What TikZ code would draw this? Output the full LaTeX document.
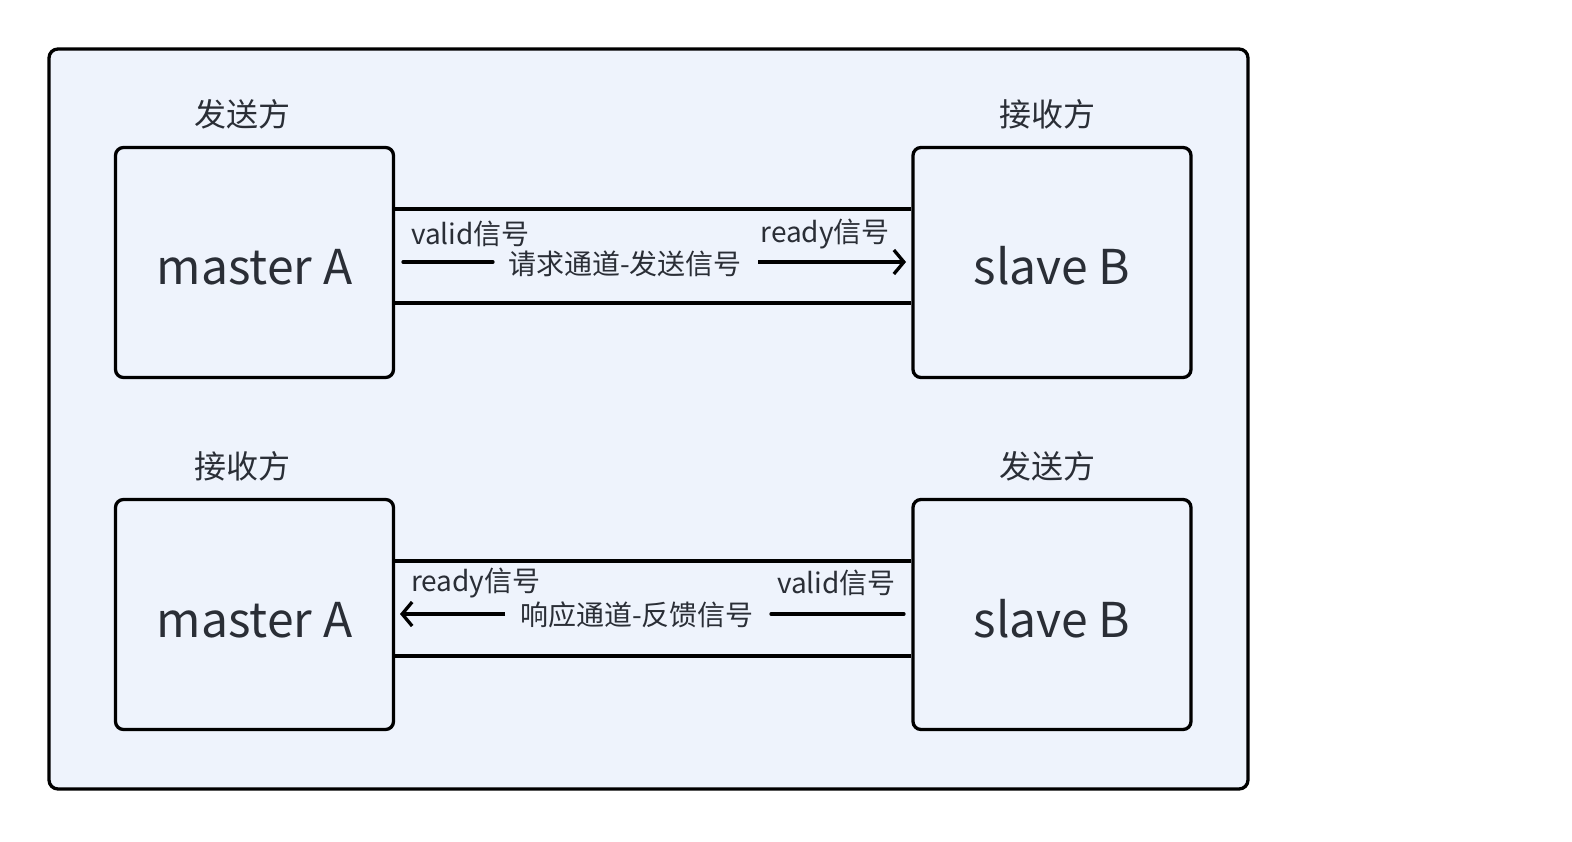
\documentclass[tikz,border=0pt]{standalone}
\usepackage{fontspec}
\setmainfont{Noto Sans CJK SC}
\usetikzlibrary{arrows.meta}
\definecolor{bg}{HTML}{EEF3FC}
\definecolor{txt}{HTML}{2A2E36}
\begin{document}
\begin{tikzpicture}[x=1pt,y=-1pt,
  frame/.style={draw=black, line width=3.3pt, rounded corners=9pt, fill=bg},
  box/.style={draw=black, line width=3.3pt, rounded corners=8pt, fill=bg, minimum width=278pt, minimum height=230pt, inner sep=0pt, text height=45pt, text depth=0pt, font=\fontsize{48}{56}\selectfont, text=txt},
  role/.style={font=\fontsize{32}{38}\selectfont, text=txt, inner sep=0pt},
  sig/.style={font=\fontsize{28}{33}\selectfont, text=txt, inner sep=0pt},
  chan/.style={draw=black, line width=3.3pt},
  arr/.style={draw=black, line width=3.3pt, -{Straight Barb[length=10pt,width=24pt]}}]
\useasboundingbox (0,0) rectangle (1572,842);
\draw[frame] (49,49) rectangle (1248,789);

% top row
\node[box] (mA1) at (254.5,262.5) {master A};
\node[box] (sB1) at (1052,262.5) {slave B};
\node[role] (r1) at (242,114) {发送方};
\node[role] (r2) at (1047,114) {接收方};
\coordinate (t1) at (0,209);
\coordinate (b1) at (0,303);
\draw[chan] (mA1.east |- t1) -- (sB1.west |- t1);
\draw[chan] (mA1.east |- b1) -- (sB1.west |- b1);
\node[sig, anchor=west] (v1) at (411,234) {valid信号};
\node[sig, anchor=east] (rd1) at (890,234) {ready信号};
\node[sig] (ch1) at (625,264) {请求通道-发送信号};
\coordinate (a1s) at (403,262);
\coordinate (a1g1) at (493,262);
\coordinate (a1g2) at (758,262);
\coordinate (a1e) at (906,262);
\draw[chan, line cap=round] (a1s) -- (a1g1);
\draw[arr] (a1g2) -- (a1e);

% bottom row
\node[box] (mA2) at (254.5,614.5) {master A};
\node[box] (sB2) at (1052,614.5) {slave B};
\node[role] (r3) at (242,466) {接收方};
\node[role] (r4) at (1047,466) {发送方};
\coordinate (t2) at (0,561);
\coordinate (b2) at (0,656);
\draw[chan] (mA2.east |- t2) -- (sB2.west |- t2);
\draw[chan] (mA2.east |- b2) -- (sB2.west |- b2);
\node[sig, anchor=west] (rd2) at (411,583) {ready信号};
\node[sig, anchor=east] (v2) at (896,583) {valid信号};
\node[sig] (ch2) at (637,615) {响应通道-反馈信号};
\coordinate (a2s) at (904,614);
\coordinate (a2g1) at (771,614);
\coordinate (a2g2) at (505,614);
\coordinate (a2e) at (400,614);
\draw[chan, line cap=round] (a2s) -- (a2g1);
\draw[arr] (a2g2) -- (a2e);
\end{tikzpicture}
\end{document}
